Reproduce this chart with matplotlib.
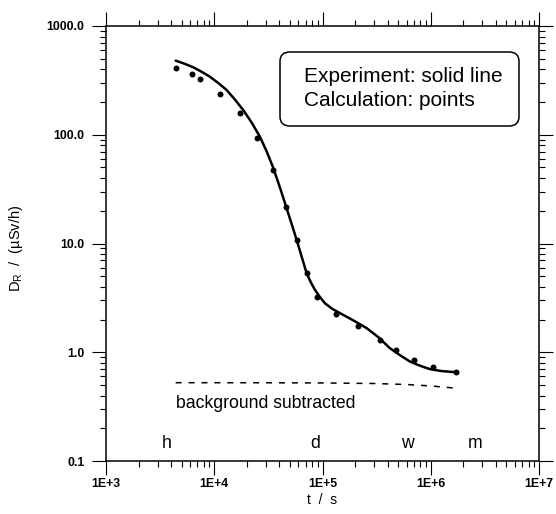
import matplotlib
matplotlib.use("Agg")
import matplotlib.pyplot as plt
from matplotlib.ticker import FixedLocator, FixedFormatter, LogLocator, NullFormatter
from matplotlib.patches import FancyBboxPatch

plt.rcParams['font.family'] = ['Liberation Sans', 'DejaVu Sans']
plt.rcParams['mathtext.fontset'] = 'custom'
plt.rcParams['mathtext.rm'] = 'Liberation Sans'
plt.rcParams['mathtext.it'] = 'Liberation Sans:italic'
plt.rcParams['lines.scale_dashes'] = False

# Calculated dose rate (points)
t_calc = [4400, 6200, 7400, 11400, 17300, 24800, 34600, 45900, 57700, 71800,
          89300, 132000, 212000, 341000, 476000, 694000, 1045000, 1706000]
d_calc = [408, 360, 326, 239, 158, 93.5, 47.5, 21.8, 10.8, 5.33,
          3.21, 2.25, 1.76, 1.30, 1.04, 0.84, 0.73, 0.656]

# Measured dose rate (solid line)
t_exp = [4400, 5310, 6400, 7660, 9100, 10900, 13000, 15500, 18500, 22100,
         26400, 30500, 35100, 40400, 46600, 51900, 57700, 64100, 71300,
         78000, 85100, 94000, 105000, 122000, 145000, 195000, 255000, 330000,
         419000, 520000, 641000, 800000, 981000, 1250000, 1670000]
d_exp = [480, 450, 417, 379, 342, 299, 258, 211, 169, 130,
         96, 70.3, 49.5, 32.8, 21.1, 15.1, 10.8, 7.61, 5.33,
         4.4, 3.75, 3.25, 2.83, 2.52, 2.29, 1.95, 1.67, 1.37,
         1.09, 0.94, 0.822, 0.75, 0.700, 0.672, 0.656]

# Subtracted background level (dashed line)
t_bg = [4400, 30000, 100000, 300000, 600000, 1000000, 1600000]
d_bg = [0.525, 0.524, 0.522, 0.516, 0.505, 0.49, 0.47]

# Time-scale markers: hour, day, week, month
unit_labels = ['h', 'd', 'w', 'm']
unit_seconds = [3600, 86400, 604800, 2592000]

x_ticks = [1e3, 1e4, 1e5, 1e6, 1e7]
x_ticklabels = ['1E+3', '1E+4', '1E+5', '1E+6', '1E+7']
y_ticks = [0.1, 1, 10, 100, 1000]
y_ticklabels = ['0.1', '1.0', '10.0', '100.0', '1000.0']

fig = plt.figure(figsize=(5.56, 5.14), dpi=100)
W, H = 556, 514
ax = fig.add_axes([106 / W, 1 - 461 / H, (539 - 106) / W, (461 - 26) / H])

ax.set_xscale('log')
ax.set_yscale('log')
ax.set_xlim(1e3, 1e7)
ax.set_ylim(0.1, 1000)

ax.plot(t_exp, d_exp, color='black', lw=1.8, solid_capstyle='round',
        solid_joinstyle='round')
ax.plot(t_calc, d_calc, 'o', color='black', ms=4.3, mew=0)
ax.plot(t_bg, d_bg, color='black', lw=1.1, dashes=(4.3, 5.0))

ax.text(4430, 0.306, 'background subtracted', fontsize=12.7,
        va='baseline', ha='left')
for lab, sec in zip(unit_labels, unit_seconds):
    ax.text(sec, 0.132, lab, fontsize=12.7, ha='center', va='baseline')

# Axis ticks
ax.xaxis.set_major_locator(FixedLocator(x_ticks))
ax.xaxis.set_major_formatter(FixedFormatter(x_ticklabels))
ax.yaxis.set_major_locator(FixedLocator(y_ticks))
ax.yaxis.set_major_formatter(FixedFormatter(y_ticklabels))
for axis in (ax.xaxis, ax.yaxis):
    axis.set_minor_locator(LogLocator(base=10, subs=range(2, 10), numticks=20))
    axis.set_minor_formatter(NullFormatter())

ax.tick_params(which='both', direction='out', top=True, right=True,
               labeltop=False, labelright=False, width=0.8, color='black')
ax.tick_params(which='major', length=10)
ax.tick_params(which='minor', length=4.5)
ax.tick_params(axis='both', which='major', labelsize=8.8)
ax.tick_params(axis='y', which='major', pad=5.5)
ax.tick_params(axis='x', which='major', pad=2)
for lbl in ax.get_xticklabels() + ax.get_yticklabels():
    lbl.set_fontweight('bold')

for sp in ax.spines.values():
    sp.set_linewidth(1.1)

ax.set_xlabel('t  /  s', fontsize=10)
ax.xaxis.set_label_coords((322 - 106) / 433, -(493 - 461) / 435)
ax.set_ylabel(r'D$_\mathregular{R}$  /  (µSv/h)', fontsize=10.5)
ax.yaxis.set_label_coords((25 - 106) / 433, (461 - 248) / 435)

# Legend box
box = FancyBboxPatch((280 / W, 1 - 126 / H), (519 - 280) / W, (126 - 52) / H,
                     boxstyle='round,pad=0,rounding_size=0.018',
                     transform=fig.transFigure, facecolor='white',
                     edgecolor='black', lw=1.1)
fig.add_artist(box)
fig.text(304 / W, 1 - 77 / H, 'Experiment: solid line', fontsize=15,
         va='center', ha='left')
fig.text(304 / W, 1 - 100 / H, 'Calculation: points', fontsize=15,
         va='center', ha='left')

fig.savefig('out.png', dpi=100)
